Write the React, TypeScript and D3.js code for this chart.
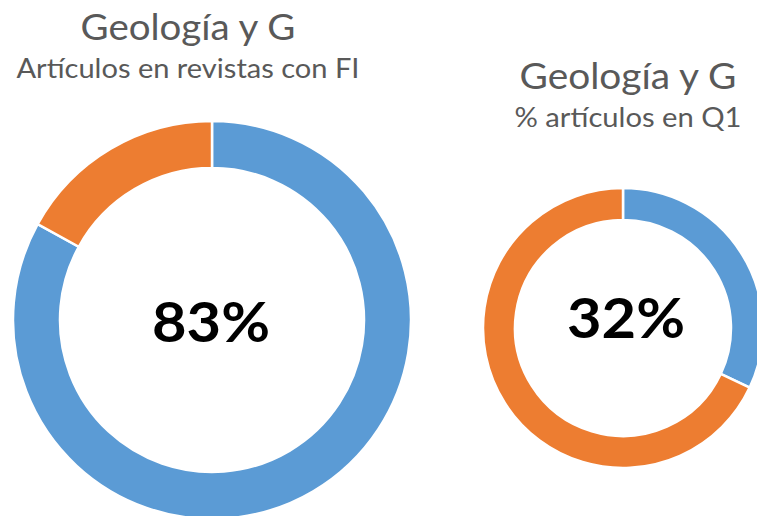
import * as d3 from "d3";

const titles = ["Geología y G", "Geología y G"];
const subtitles = ["Artículos en revistas con FI", "% artículos en Q1"];
const mainShare = [83, 32];
const restShare = [17, 68];
const centerLabels = ["83%", "32%"];

const colors = ["#5B9BD5", "#ED7D31"];

// layout of each donut
const layout = [
  { cx: 212, cy: 320, outer: 199, inner: 152, titleX: 188, titleY: 40, titleW: 215, subY: 78, subW: 343, labelY: 342, labelX: 211 },
  { cx: 623, cy: 328, outer: 140, inner: 108, titleX: 628, titleY: 89, titleW: 217, subY: 127, subW: 227, labelY: 338, labelX: 626 },
];

const font = "Lato, 'Open Sans', sans-serif";

function Donut({ i }: { i: number }) {
  const l = layout[i];
  const pie = d3.pie<number>().sort(null).value((d) => d);
  const arcs = pie([mainShare[i], restShare[i]]);
  const arc = d3.arc<d3.PieArcDatum<number>>().innerRadius(l.inner).outerRadius(l.outer);

  return (
    <g>
      <text
        x={l.titleX}
        y={l.titleY}
        textAnchor="middle"
        fontFamily={font}
        fontSize={37}
        fill="#595959"
        textLength={l.titleW}
        lengthAdjust="spacingAndGlyphs"
      >
        {titles[i]}
      </text>
      <text
        x={l.titleX}
        y={l.subY}
        textAnchor="middle"
        fontFamily={font}
        fontSize={26}
        fill="#595959"
        textLength={l.subW}
        lengthAdjust="spacingAndGlyphs"
      >
        {subtitles[i]}
      </text>
      <g transform={`translate(${l.cx},${l.cy})`}>
        {arcs.map((a, k) => (
          <path key={k} d={arc(a) || ""} fill={colors[k]} stroke="#fff" strokeWidth={2.5} />
        ))}
      </g>
      <text
        x={l.labelX}
        y={l.labelY}
        textAnchor="middle"
        fontFamily={font}
        fontWeight="bold"
        fontSize={56}
        fill="#000"
        textLength={118}
        lengthAdjust="spacingAndGlyphs"
      >
        {centerLabels[i]}
      </text>
    </g>
  );
}

export default function App() {
  return (
    <svg
      width={757}
      height={516}
      style={{ position: "absolute", left: 0, top: 0, background: "#fff" }}
    >
      <rect width={757} height={516} fill="#fff" />
      <Donut i={0} />
      <Donut i={1} />
    </svg>
  );
}
